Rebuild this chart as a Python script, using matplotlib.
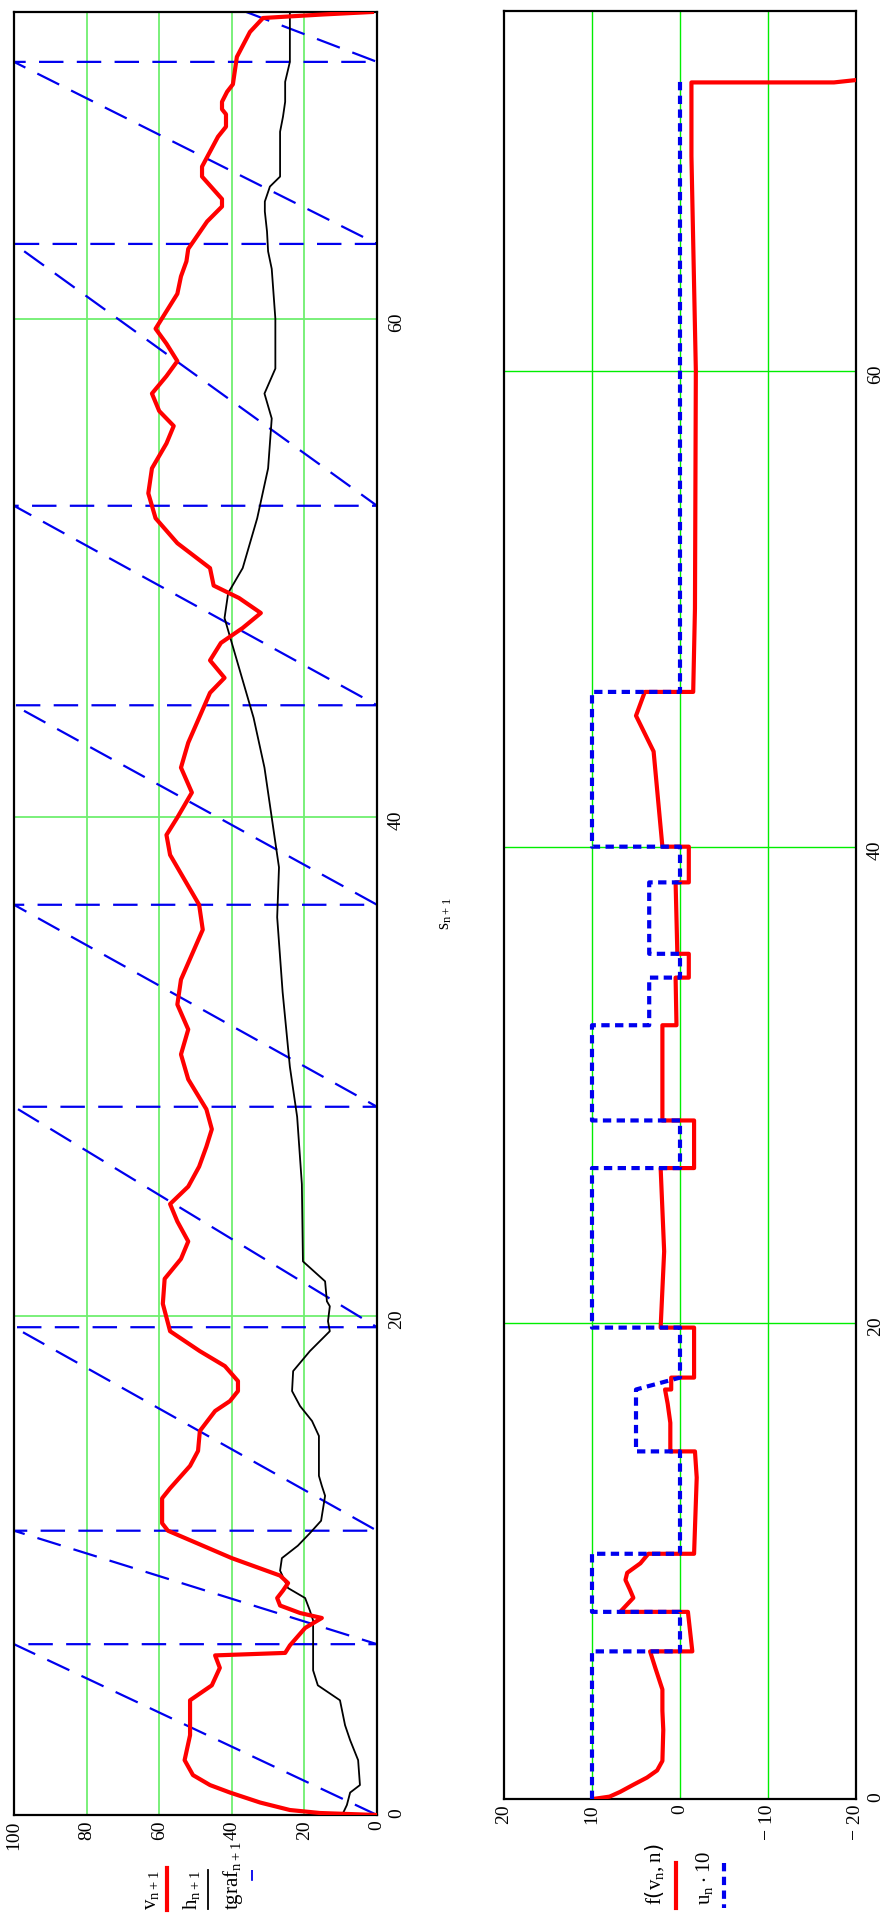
import numpy as np
import matplotlib
matplotlib.use("Agg")
import matplotlib.pyplot as plt

plt.rcParams['font.family'] = ['Liberation Serif', 'DejaVu Serif']

# ---------------- top panel data (s, value) ----------------
v_s = [0.0, 0.08, 0.2, 0.5, 0.9, 1.2, 1.6, 2.2, 3.2, 4.6, 5.2, 5.9, 6.4, 6.5, 6.8, 7.5, 7.9, 8.1, 8.4, 8.7,
       9.0, 9.3, 9.6, 10.3, 11.4, 11.7, 12.7, 13.1, 14.0, 14.6, 15.4, 16.2, 16.6, 17.0, 17.4, 18.0, 18.6, 19.4,
       20.5, 21.5, 22.3, 23.0, 23.8, 24.5, 25.2, 26.0, 26.8, 27.5, 28.3, 29.5, 30.5, 31.5, 32.5, 33.5, 34.5,
       35.5, 36.5, 37.5, 38.5, 39.3, 40.0, 41.0, 42.0, 43.0, 44.0, 45.0, 45.6, 46.3, 47.0, 47.6, 48.2, 48.8,
       49.3, 50.0, 51.0, 52.0, 53.0, 54.0, 55.0, 55.7, 56.3, 57.0, 57.7, 58.3, 59.0, 59.6, 60.3, 61.0, 61.7,
       62.3, 62.8, 63.9, 64.5, 64.8, 65.7, 66.1, 66.7, 67.3, 67.7, 68.2, 68.4, 68.7, 69.1, 69.4, 70.5, 71.5,
       72.06, 72.2, 72.3]
v_val = [0, 15.7, 24, 32.2, 40.5, 46, 50.7, 53, 51.5, 51.5, 45.5, 43.3, 44.6, 25.3, 24, 19.8, 15.2, 21.2, 26.7, 27.5,
         25.9, 24.5, 26.7, 40, 57.6, 59.2, 59.2, 57, 51.5, 49.3, 48.8, 44.6, 40.5, 38.3, 38.3, 41.9, 48.8, 57,
         59, 58.5, 54, 52, 55, 57, 52, 49, 47, 45.5, 47, 52, 54, 52, 55, 54, 51,
         48, 49, 53, 57, 58, 55, 51, 54, 52, 49, 46, 42, 46, 43, 37, 32, 38,
         45, 46, 55, 61, 63, 62, 58, 56, 60, 62, 58, 55, 58, 61, 58, 55, 54,
         52.5, 52, 46.8, 42.7, 42.7, 48.2, 48.2, 46, 43.8, 41.6, 41.6, 42.7, 42.7, 41.3, 39.7, 38.6, 35,
         31.4, 15, 1.4]

h_s = [0.0, 0.4, 0.9, 1.2, 2.2, 3.0, 3.6, 4.6, 5.2, 5.8, 7.8, 8.2, 8.7, 9.1, 9.8, 10.3, 10.8, 11.3, 11.8,
       12.8, 13.2, 13.6, 15.2, 15.8, 16.4, 17.0, 17.8, 18.6, 19.4, 19.8, 20.4, 20.6, 21.4, 22.2, 25.3,
       28, 30, 33, 36, 38, 40, 42, 44, 46, 48, 49, 50, 52, 54, 56, 57, 58, 60, 62,
       62.7, 63.5, 64.3, 64.7, 65.3, 65.7, 66.9, 67.5, 68.1, 68.7, 69.5, 70.3, 72.3]
h_val = [9.6, 8.3, 7.4, 4.7, 5.2, 7.4, 8.8, 10.2, 16.3, 17.6, 17.6, 18.5, 19.8, 24.5, 26.7, 26.2, 21.8, 18.5, 15.4,
         14.3, 15.2, 16, 16, 17.9, 21.2, 23.4, 23.1, 18.5, 13, 13.5, 13, 13.8, 14.3, 20.4, 20.7,
         22, 24, 26, 27.5, 27, 29, 31, 34, 38, 42, 41, 37, 33, 30, 29, 31, 28, 28, 29,
         30, 30.3, 30.9, 30.9, 29.5, 26.7, 26.7, 26.7, 25.9, 25.3, 25.3, 24, 24]

# tgraf sawtooth: reset positions (s) and the value reached at the end
tg_resets = [0.0, 6.85, 11.4, 19.56, 28.4, 36.5, 44.5, 52.5, 63.0, 70.3]
tg_end_s = 72.3
tg_end_val = 36.0

# ---------------- bottom panel data ----------------
f_s = [0.0, 0.1, 0.3, 0.6, 0.9, 1.2, 1.6, 2.9, 3.7, 4.6, 5.5, 6.2, 6.2, 7.86, 7.86, 8.45, 8.8, 9.2, 9.5, 9.9,
       10.3, 10.3, 13.5, 14.6, 14.6, 15.8, 16.6, 17.2, 17.2, 17.7, 17.7, 19.8,
       19.8, 23.0, 26.5, 26.5, 28.5, 28.5, 32.5, 32.5, 34.5, 34.5, 35.5, 35.5, 38.5, 38.5, 40.0,
       40.0, 42.0, 44.0, 45.5, 46.5, 46.5, 50.0, 60.0, 69.0, 72.1, 72.1, 72.2]
f_val = [9.9, 8.0, 6.8, 5.3, 3.75, 2.6, 2.0, 1.9, 2.0, 2.0, 2.8, 3.4, -1.4, -0.9, 6.8, 5.3, 5.7, 6.2, 6.0, 4.5,
         3.6, -1.6, -1.9, -1.7, 1.1, 1.1, 1.4, 1.7, 1.0, 1.0, -1.6, -1.6,
         2.2, 1.8, 2.2, -1.6, -1.6, 2.0, 2.0, 0.4, 0.5, -1.0, -1.0, 0.3, 0.5, -1.0, -1.0,
         2.0, 2.5, 3.0, 5.0, 4.0, -1.5, -1.7, -1.8, -1.3, -1.3, -17.5, -20]

u_s = [0.0, 6.2, 6.2, 7.86, 7.86, 10.3, 10.3, 14.6, 14.6, 17.2, 17.7, 19.8, 19.8, 26.5, 26.5, 28.5, 28.5,
       32.5, 32.5, 34.5, 34.5, 35.5, 35.5, 38.5, 38.5, 40.0, 40.0, 46.5, 46.5, 72.2]
u_val = [10, 10, 0, 0, 10, 10, 0, 0, 5, 5, 0, 0, 10, 10, 0, 0, 10,
         10, 3.5, 3.5, 0, 0, 3.5, 3.5, 0, 0, 10, 10, 0, 0]

# axis settings
top_s_max = 72.3
bot_s_max = 75.1
top_val_ticks = [100, 80, 60, 40, 20, 0]
bot_val_ticks = [20, 10, 0, -10, -20]
bot_val_labels = ['20', '10', '0', '\u2212 10', '\u2212 20']
s_ticks = [0, 20, 40, 60]

W, H = 888, 1914
fig = plt.figure(figsize=(W / 100, H / 100), dpi=100)

ax1 = fig.add_axes([14 / W, 1 - 1815 / H, (377 - 14) / W, (1815 - 12) / H])
ax2 = fig.add_axes([504 / W, 1 - 1799 / H, (856 - 504) / W, (1799 - 11) / H])

# --- top panel ---
ax1.set_xlim(100, 0)
ax1.set_ylim(0, top_s_max)
for g in [100, 80, 60, 40, 20]:
    ax1.axvline(g, color='#6fef6f', lw=1.3, zorder=0)
for g in [20, 40, 60]:
    ax1.axhline(g, color='#6fef6f', lw=1.3, zorder=0)

# sawtooth from resets
tg_x, tg_y = [0], [0]
bounds = tg_resets + [tg_end_s]
for i in range(len(tg_resets)):
    a, b = bounds[i], bounds[i + 1]
    top = 100 if i < len(tg_resets) - 1 else tg_end_val
    tg_x += [0, top]
    tg_y += [a, b]
    if i < len(tg_resets) - 1:
        tg_x += [0]
        tg_y += [b]
ax1.plot(tg_x, tg_y, color='#0000ee', lw=1.6, dashes=(11, 6), zorder=2)
ax1.plot(h_val, h_s, color='black', lw=1.3, zorder=3)
ax1.plot(v_val, v_s, color='#ff0000', lw=3.0, zorder=4)

ax1.set_xticks(top_val_ticks)
ax1.set_xticklabels([str(t) for t in top_val_ticks])
ax1.set_yticks(s_ticks)
ax1.yaxis.tick_right()
ax1.tick_params(axis='x', labelrotation=90, length=0, labelsize=14, pad=4)
ax1.tick_params(axis='y', labelrotation=90, length=0, labelsize=14, pad=8)
for sp in ax1.spines.values():
    sp.set_linewidth(1.6)
ax1.text(1.19, 0.5, r'$\mathregular{s_{n+1}}$', transform=ax1.transAxes, rotation=90,
         ha='center', va='center', fontsize=13)

# --- bottom panel ---
ax2.set_xlim(20, -20)
ax2.set_ylim(0, bot_s_max)
for g in [10, 0, -10]:
    ax2.axvline(g, color='#00ee00', lw=1.0, zorder=0)
for g in [20, 40, 60]:
    ax2.axhline(g, color='#00ee00', lw=1.0, zorder=0)
ax2.plot(f_val, f_s, color='#ff0000', lw=3.0, zorder=3)
ax2.plot(u_val, u_s, color='#0000ee', lw=3.0, dashes=(2.0, 1.3), zorder=4)
ax2.set_xticks(bot_val_ticks)
ax2.set_xticklabels(bot_val_labels)
ax2.set_yticks(s_ticks)
ax2.yaxis.tick_right()
ax2.tick_params(axis='x', labelrotation=90, length=0, labelsize=14, pad=4)
ax2.tick_params(axis='y', labelrotation=90, length=0, labelsize=14, pad=8)
for sp in ax2.spines.values():
    sp.set_linewidth(1.6)

# --- legends (rotated) ---
def yf(p):
    return 1 - p / H

fig.text(151 / W, yf(1910), r'$\mathregular{v_{n+1}}$', rotation=90, ha='center', va='bottom', fontsize=15)
fig.text(191 / W, yf(1910), r'$\mathregular{h_{n+1}}$', rotation=90, ha='center', va='bottom', fontsize=15)
fig.text(233 / W, yf(1910), r'$\mathregular{tgraf_{n+1}}$', rotation=90, ha='center', va='bottom', fontsize=15)
fig.text(655 / W, yf(1905), r'$\mathregular{f\left(v_n,n\right)}$', rotation=90, ha='center', va='bottom', fontsize=15)
fig.text(704 / W, yf(1905), r'$\mathregular{u_n\cdot 10}$', rotation=90, ha='center', va='bottom', fontsize=15)

fig.add_artist(plt.Line2D([167 / W, 167 / W], [yf(1868), yf(1910)], color='red', lw=3))
fig.add_artist(plt.Line2D([208 / W, 208 / W], [yf(1870), yf(1909)], color='black', lw=1.3))
fig.add_artist(plt.Line2D([252 / W, 252 / W], [yf(1870), yf(1909)], color='#0000ee', lw=1.3, dashes=(6, 20)))
fig.add_artist(plt.Line2D([676 / W, 676 / W], [yf(1863), yf(1908)], color='red', lw=3))
fig.add_artist(plt.Line2D([724 / W, 724 / W], [yf(1863), yf(1908)], color='#0000ee', lw=3, dashes=(2.0, 1.3)))

fig.savefig('out.png', dpi=100)
